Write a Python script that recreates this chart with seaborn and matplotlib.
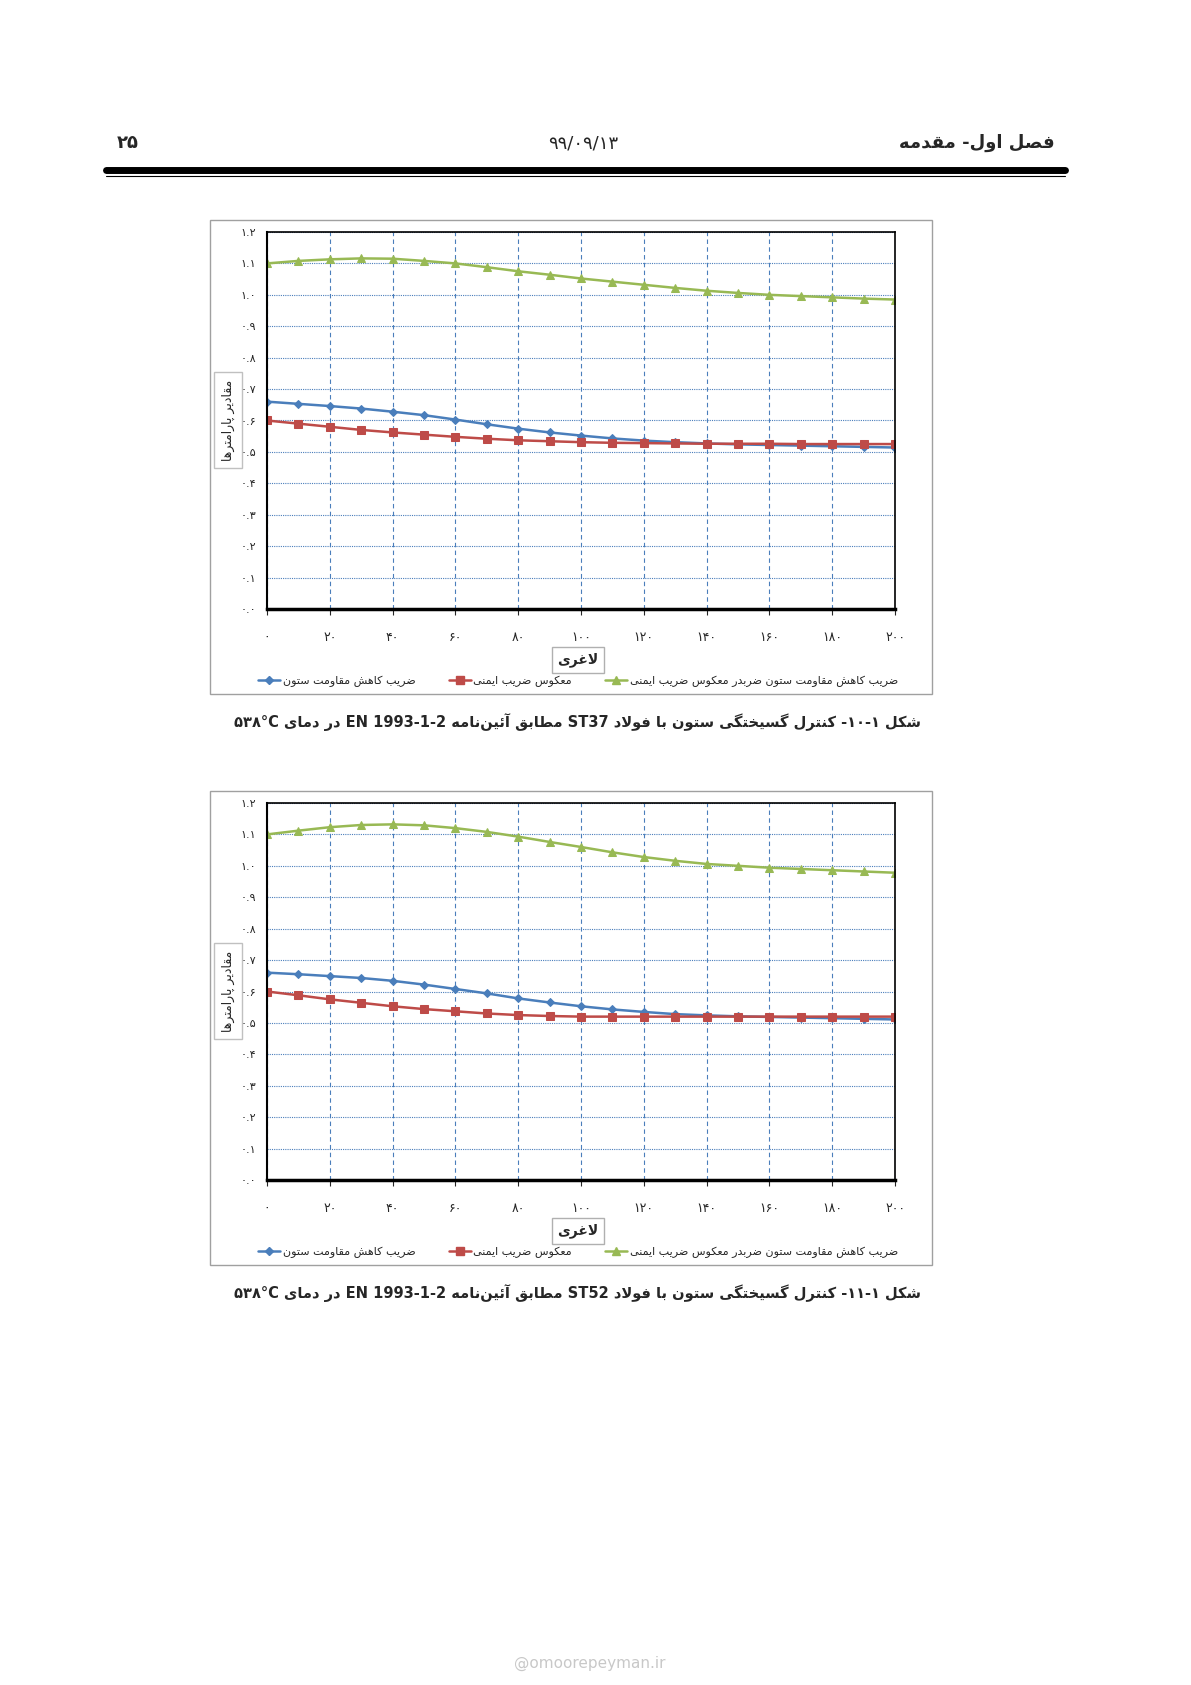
import pandas as pd
import matplotlib
matplotlib.use("Agg")
import matplotlib.pyplot as plt
import seaborn as sns
from matplotlib.patches import Rectangle
from matplotlib.lines import Line2D

# slenderness values
slender = [0, 10, 20, 30, 40, 50, 60, 70, 80, 90, 100, 110, 120, 130, 140, 150, 160, 170, 180, 190, 200]

# figure 1-10 (ST37)
st37_blue = [0.66, 0.653, 0.646, 0.638, 0.628, 0.617, 0.603, 0.588, 0.574, 0.562, 0.552, 0.543, 0.536,
             0.531, 0.527, 0.524, 0.522, 0.520, 0.518, 0.516, 0.514]
st37_red = [0.60, 0.590, 0.580, 0.570, 0.562, 0.555, 0.548, 0.542, 0.537, 0.534, 0.531, 0.529, 0.528,
            0.527, 0.526, 0.526, 0.526, 0.525, 0.525, 0.525, 0.525]
st37_green = [1.10, 1.108, 1.113, 1.116, 1.115, 1.108, 1.100, 1.088, 1.075, 1.064, 1.052, 1.042, 1.032,
              1.022, 1.013, 1.006, 1.000, 0.996, 0.992, 0.988, 0.985]

# figure 1-11 (ST52)
st52_blue = [0.66, 0.655, 0.649, 0.643, 0.634, 0.622, 0.608, 0.594, 0.578, 0.565, 0.553, 0.543, 0.535,
             0.528, 0.524, 0.521, 0.519, 0.517, 0.515, 0.513, 0.511]
st52_red = [0.60, 0.588, 0.575, 0.564, 0.553, 0.544, 0.537, 0.530, 0.525, 0.522, 0.520, 0.520, 0.520,
            0.520, 0.520, 0.520, 0.520, 0.520, 0.520, 0.520, 0.520]
st52_green = [1.10, 1.112, 1.123, 1.130, 1.132, 1.129, 1.120, 1.108, 1.093, 1.076, 1.060, 1.043, 1.028,
              1.016, 1.006, 1.000, 0.994, 0.990, 0.986, 0.982, 0.978]

series_names = ["ضریب کاهش مقاومت ستون", "معکوس ضریب ایمنی", "ضریب کاهش مقاومت ستون ضربدر معکوس ضریب ایمنی"]
x_ticks = [0, 20, 40, 60, 80, 100, 120, 140, 160, 180, 200]
y_ticks = [i / 10 for i in range(13)]

# --- tiny persian shaper (matplotlib has no arabic shaping) ---
DUAL = {"ب": 0xFE8F, "ت": 0xFE95, "ث": 0xFE99, "ج": 0xFE9D, "ح": 0xFEA1, "خ": 0xFEA5, "س": 0xFEB1,
        "ش": 0xFEB5, "ص": 0xFEB9, "ض": 0xFEBD, "ط": 0xFEC1, "ظ": 0xFEC5, "ع": 0xFEC9, "غ": 0xFECD,
        "ف": 0xFED1, "ق": 0xFED5, "ک": 0xFB8E, "گ": 0xFB92, "ل": 0xFEDD, "م": 0xFEE1, "ن": 0xFEE5,
        "ه": 0xFEE9, "ی": 0xFBFC, "ئ": 0xFE89, "پ": 0xFB56, "چ": 0xFB7A}
RIGHT = {"ا": 0xFE8D, "آ": 0xFE81, "د": 0xFEA9, "ذ": 0xFEAB, "ر": 0xFEAD, "ز": 0xFEAF, "و": 0xFEED,
         "ژ": 0xFB8A}


def shape_word(w):
    w = w.replace("\u200c", "\u0000")
    chars = []
    i = 0
    while i < len(w):
        if w[i] == "ل" and i + 1 < len(w) and w[i + 1] == "ا":
            chars.append("LA")
            i += 2
        else:
            chars.append(w[i])
            i += 1
    out = []
    for k, c in enumerate(chars):
        prev = chars[k - 1] if k > 0 else None
        nxt = chars[k + 1] if k + 1 < len(chars) else None
        join_prev = prev is not None and prev in DUAL
        join_next = nxt is not None and (nxt in DUAL or nxt in RIGHT or nxt == "LA")
        if c == "LA":
            out.append(chr(0xFEFC if join_prev else 0xFEFB))
        elif c in DUAL:
            base = DUAL[c]
            if join_prev and join_next:
                out.append(chr(base + 3))
            elif join_prev:
                out.append(chr(base + 1))
            elif join_next:
                out.append(chr(base + 2))
            else:
                out.append(chr(base))
        elif c in RIGHT:
            out.append(chr(RIGHT[c] + (1 if join_prev else 0)))
        elif c == "\u0000":
            continue
        else:
            out.append(c)
    return "".join(reversed(out))


def is_fa(tok):
    return any("\u0600" <= ch <= "\u06ff" and not ("\u06f0" <= ch <= "\u06f9") for ch in tok)


def fa(s):
    runs = []
    for tok in s.split(" "):
        if is_fa(tok):
            runs.append(shape_word(tok))
        elif runs and isinstance(runs[-1], list):
            runs[-1].append(tok)
        else:
            runs.append([tok])
    runs = [" ".join(r) if isinstance(r, list) else r for r in runs]
    return " ".join(reversed(runs))


def pdig(v):
    return str(v).translate(str.maketrans("0123456789", "۰۱۲۳۴۵۶۷۸۹"))


sns.set_style("white")
plt.rcParams["font.family"] = ["DejaVu Sans", "Noto Sans"]

W, H = 1191, 1685
fig = plt.figure(figsize=(W / 100, H / 100), dpi=100)


def fx(px):
    return px / W


def fy(py):
    return 1 - py / H


colors = ["#4a7ebb", "#be4b48", "#98b954"]
markers = ["D", "s", "^"]
msizes = [4, 6, 6]

# header
fig.text(fx(128), fy(143), "۲۵", fontsize=13, fontweight="bold", ha="center", va="center")
fig.text(fx(583), fy(143), "۹۹/۰۹/۱۳", fontsize=13, ha="center", va="center")
fig.text(fx(1055), fy(143), fa("فصل اول- مقدمه"), fontsize=13, fontweight="bold",
         ha="right", va="center")
fig.add_artist(Line2D([fx(106), fx(1065)], [fy(170), fy(170)], color="black", lw=5))
fig.add_artist(Line2D([fx(106), fx(1065)], [fy(176), fy(176)], color="black", lw=0.8))


def draw_chart(top, blue, red, green, caption):
    box_top = top
    fig.add_artist(Rectangle((fx(210), fy(box_top + 474)), fx(932) - fx(210), 474 / H,
                             fill=False, edgecolor="#a0a0a0", lw=1, transform=fig.transFigure))
    ax = fig.add_axes([fx(267), fy(box_top + 389), fx(895) - fx(267), 377 / H])
    df = pd.DataFrame({"x": slender * 3,
                       "y": blue + red + green,
                       "s": [series_names[0]] * 21 + [series_names[1]] * 21 + [series_names[2]] * 21})
    for i, name in enumerate(series_names):
        sns.lineplot(data=df[df["s"] == name], x="x", y="y", ax=ax, color=colors[i], marker=markers[i],
                     markersize=msizes[i], markeredgecolor=colors[i], lw=1.8, legend=False)
    ax.set_xlim(0, 200)
    ax.set_ylim(0, 1.2)
    ax.set_xticks(x_ticks)
    ax.set_xticklabels([pdig(v) for v in x_ticks], fontsize=9)
    ax.set_yticks(y_ticks)
    ax.set_yticklabels([pdig(f"{v:.1f}") for v in y_ticks], fontsize=8)
    ax.tick_params(axis="x", pad=12, length=4, direction="out", bottom=True)
    ax.tick_params(axis="y", length=0, pad=8)
    ax.grid(True, axis="x", color="#4a7ebb", ls=(0, (4, 3)), lw=0.8)
    ax.grid(True, axis="y", color="#4a7ebb", ls=(0, (1, 1)), lw=0.8)
    for sp in ax.spines.values():
        sp.set_color("black")
        sp.set_linewidth(1.2)
    ax.spines["bottom"].set_linewidth(2.5)
    ax.spines["left"].set_linewidth(1.5)
    ax.set_xlabel("")
    ax.set_ylabel("")
    fig.text(fx(578), fy(box_top + 440), fa("لاغری"), fontsize=10, fontweight="bold", ha="center", va="center",
             bbox=dict(boxstyle="square,pad=0.4", fc="white", ec="#b0b0b0"))
    fig.text(fx(228), fy(box_top + 200), fa("مقادیر پارامترها"), fontsize=9, rotation=90, ha="center",
             va="center", bbox=dict(boxstyle="square,pad=0.6", fc="white", ec="#c0c0c0"))
    handles = [Line2D([], [], color=colors[i], marker=markers[i], markersize=msizes[i], lw=1.8)
               for i in range(3)]
    fig.legend(handles, [fa(n) for n in series_names], loc="center", ncol=3, frameon=False, fontsize=8,
               bbox_to_anchor=(fx(578), fy(box_top + 461)), columnspacing=3, handlelength=2, handletextpad=0.2)
    fig.text(fx(921), fy(box_top + 502), caption, fontsize=10.5, fontweight="bold", ha="right", va="center")


draw_chart(220, st37_blue, st37_red, st37_green,
           fa("شکل -۱۰-۱ کنترل گسیختگی ستون با فولاد ST37 مطابق آئین‌نامه EN 1993-1-2 در دمای ۵۳۸°C"))
draw_chart(791, st52_blue, st52_red, st52_green,
           fa("شکل -۱۱-۱ کنترل گسیختگی ستون با فولاد ST52 مطابق آئین‌نامه EN 1993-1-2 در دمای ۵۳۸°C"))

fig.text(fx(590), fy(1663), "@omoorepeyman.ir", fontsize=11, color="#c8c8c8", ha="center", va="center")

fig.savefig("out.png", dpi=100)
